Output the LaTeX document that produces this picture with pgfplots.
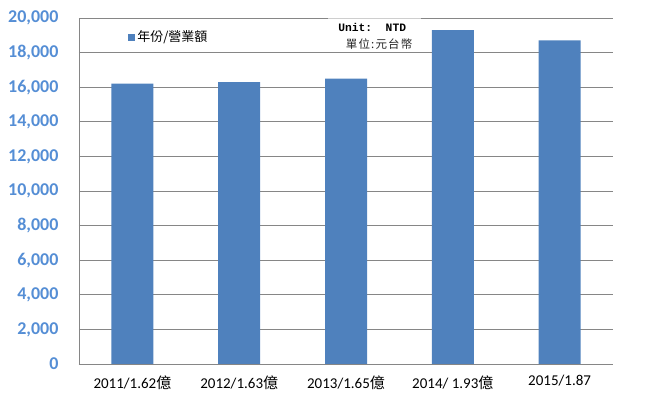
\documentclass[border=0pt]{standalone}
\usepackage{fontspec}
\setmainfont{Carlito}
\newfontfamily\cjk{Noto Sans CJK TC}
\newfontfamily\cjkwide[LetterSpace=10]{Noto Sans CJK TC}
\newfontfamily\monob{Liberation Mono}
\usepackage{pgfplots}
\pgfplotsset{compat=1.18}
\usepackage{pgfplotstable}

\definecolor{barblue}{HTML}{4F81BD}
\definecolor{ticknum}{HTML}{558ED5}
\definecolor{gridgray}{HTML}{868686}

\pgfplotstableread{
idx revenue
0   16200
1   16300
2   16500
3   19300
4   18700
}\revenue

\begin{document}
\begin{tikzpicture}
\begin{axis}[
    name=ax,
    scale only axis,
    width=534pt, height=346pt,
    xmin=-0.5, xmax=4.5,
    ymin=0, ymax=20000,
    ytick distance=2000,
    xtick=data,
    xticklabels={2011/1.62{\cjk 億}, 2012/1.63{\cjk 億}, 2013/1.65{\cjk 億}, 2014/ 1.93{\cjk 億}, 2015/1.87},
    axis x line*=bottom,
    axis y line*=left,
    axis line style={gridgray, line width=0.8pt, -},
    ymajorgrids,
    grid style={gridgray, line width=0.8pt},
    major tick length=0pt,
    /pgf/number format/assume math mode=true,
    /pgf/number format/1000 sep={,},
    scaled y ticks=false,
    yticklabel style={font=\bfseries\fontsize{18}{20}\selectfont, text=ticknum, xshift=-17pt},
    xticklabel style={font=\fontsize{15}{17}\selectfont, text=black, yshift=-8pt},
    legend style={draw=none, fill=none, at={(rel axis cs:0.092,0.945)}, anchor=west,
        font=\cjk\fontsize{13}{15}\selectfont, inner sep=0pt},
    legend image code/.code={\fill[barblue] (0pt,-3.5pt) rectangle (7pt,3.5pt);},
]
\addplot[ybar, bar width=42pt, fill=barblue, draw=none] table[x=idx, y=revenue] {\revenue};
\addlegendentry{年份/營業額}
\fill[white, opacity=0.6] (rel axis cs:0.467,1.006) rectangle (rel axis cs:0.64,0.905);
\node[font=\monob\bfseries\fontsize{11.3}{13}\selectfont] at (rel axis cs:0.549,0.974) {Unit:~~NTD};
\node[font=\cjkwide\fontsize{11.5}{14}\selectfont, text=black!85] at (rel axis cs:0.562,0.925) {單位:元台幣};
\end{axis}
\pgfresetboundingbox
\path[use as bounding box] ([shift={(-79pt,-39pt)}]ax.south west) rectangle ([shift={(36pt,18pt)}]ax.north east);
\end{tikzpicture}
\end{document}
